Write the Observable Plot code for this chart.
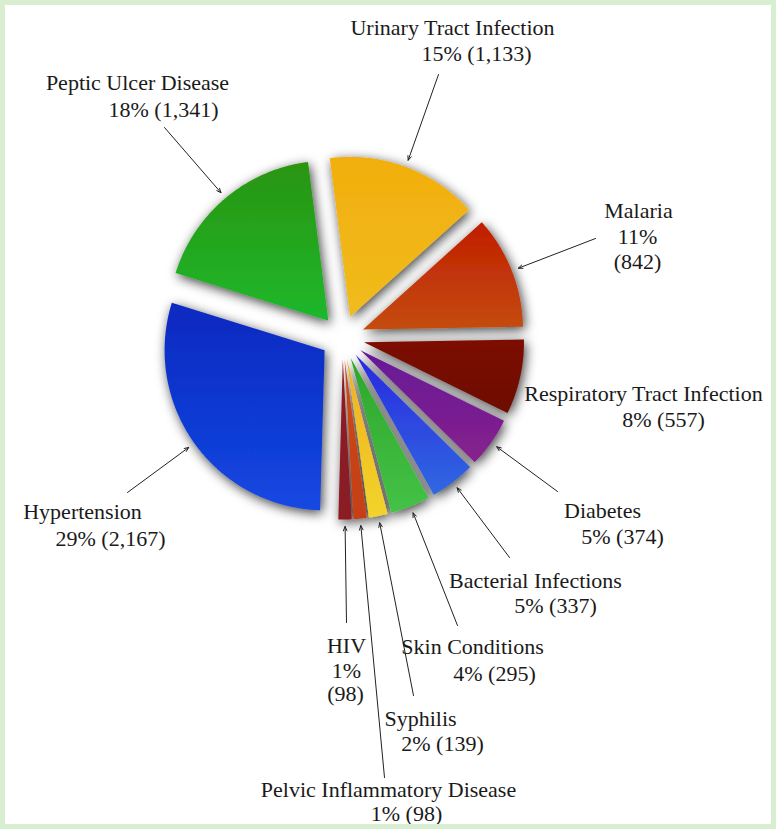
<!DOCTYPE html>
<html><head><meta charset="utf-8">
<script src="https://cdn.jsdelivr.net/npm/d3@7"></script>
<script src="https://cdn.jsdelivr.net/npm/@observablehq/plot@0.6"></script>
<style>
html,body{margin:0;padding:0;background:#fff;}
#wrap{position:relative;width:776px;height:829px;overflow:hidden;background:#fff;}
#frame{position:absolute;left:0;top:0;width:776px;height:829px;box-sizing:border-box;border:5px solid #d7eed1;pointer-events:none;}
</style></head><body><div id="wrap"><div id="frame"></div></div>
<script>
// ---- data ----
const categories = ["Urinary Tract Infection","Malaria","Respiratory Tract Infection","Diabetes","Bacterial Infections","Skin Conditions","Syphilis","Pelvic Inflammatory Disease","HIV","Hypertension","Peptic Ulcer Disease"];
const counts = [1133, 842, 557, 374, 337, 295, 139, 98, 98, 2167, 1341];
const colorTop    = ["#f2ae0e","#c01e00","#7c0b04","#661898","#2a28e0","#2ea62c","#f0ae22","#c84a1a","#8a1c28","#0a28c0","#2a9410"];
const colorBottom = ["#f0bc1c","#c44c10","#6c0806","#86228c","#3068e0","#44c246","#f2d42a","#c83e16","#8a1a24","#1448e2","#1eb82c"];

// ---- layout (pixels) ----
const W = 776, H = 829;
const cx = 342, cy = 337, R = 160, explode = 22, startDeg = -7.3, tipGap = 7;
// label lines: [kind, x-center, baseline]; kinds: name, pctcount, pct, count
const labelLayout = [
  {lines: [["name",452,34],["pctcount",476,60]], tail: [438,74]},
  {lines: [["name",638,217],["pct",637,243],["count",637,268]], tail: [595,238]},
  {lines: [["name",643,400],["pctcount",663,426]], tail: null},
  {lines: [["name",602,517],["pctcount",622,543]], tail: [557,491]},
  {lines: [["name",535,587],["pctcount",555,612]], tail: [509,557]},
  {lines: [["name",472,653],["pctcount",494,680]], tail: [457,625]},
  {lines: [["name",420,725],["pctcount",442,750]], tail: [413,695]},
  {lines: [["name",388,796],["pctcount",406,820]], tail: [384,777]},
  {lines: [["name",346,652],["pct",346,677],["count",345,700]], tail: [346,622]},
  {lines: [["name",82,518],["pctcount",110,545]], tail: [127,492]},
  {lines: [["name",137,89],["pctcount",163,116]], tail: [164,127]}
];

// ---- build ----
const total = d3.sum(counts);
const fmt = d3.format(",");
const rad = d => d * Math.PI / 180;
let acc = startDeg;
const slices = categories.map((name, i) => {
  const span = counts[i] / total * 360;
  const a0 = acc, a1 = acc + span; acc = a1;
  const m = (a0 + a1) / 2;
  const ax = cx + explode * Math.sin(rad(m)), ay = cy - explode * Math.cos(rad(m));
  return {name, i, a0, a1, m, ax, ay,
    pct: Math.round(counts[i] / total * 100) + "%", count: "(" + fmt(counts[i]) + ")"};
});

const pts = [];
for (const s of slices) {
  pts.push({name: s.name, x: s.ax, y: s.ay, fill: `url(#g${s.i})`});
  const n = Math.max(4, Math.ceil((s.a1 - s.a0) / 0.5));
  for (let k = 0; k <= n; k++) {
    const a = s.a0 + (s.a1 - s.a0) * k / n;
    pts.push({name: s.name, x: s.ax + R * Math.sin(rad(a)), y: s.ay - R * Math.cos(rad(a)), fill: `url(#g${s.i})`});
  }
  pts.push({name: s.name, x: s.ax, y: s.ay, fill: `url(#g${s.i})`});
}

const arrows = slices.filter((s, i) => labelLayout[i].tail).map(s => {
  const t = labelLayout[s.i].tail;
  return {x1: t[0], y1: t[1],
    x2: s.ax + (R + tipGap) * Math.sin(rad(s.m)), y2: s.ay - (R + tipGap) * Math.cos(rad(s.m))};
});

const texts = [];
slices.forEach(s => {
  for (const [kind, x, y] of labelLayout[s.i].lines) {
    const text = kind === "name" ? s.name : kind === "pct" ? s.pct : kind === "count" ? s.count : s.pct + " " + s.count;
    texts.push({x, y, text});
  }
});

const svg = Plot.plot({
  width: W, height: H, margin: 0,
  x: {domain: [0, W], range: [0, W], axis: null},
  y: {domain: [0, H], range: [0, H], axis: null},
  color: {type: "identity"},
  style: {background: "transparent", overflow: "visible"},
  marks: [
    Plot.line(pts, {x: "x", y: "y", z: "name", fill: "fill", stroke: "none"}),
    Plot.arrow(arrows, {x1: "x1", y1: "y1", x2: "x2", y2: "y2", stroke: "#222", strokeWidth: 1, headLength: 7, headAngle: 45}),
    Plot.text(texts, {x: "x", y: "y", text: "text", textAnchor: "middle", lineAnchor: "bottom",
      fontSize: 22, fontFamily: "Liberation Serif", fill: "#1a1a1a"})
  ]
});

const sel = d3.select(svg);
const defs = sel.insert("defs", ":first-child");
slices.forEach(s => {
  const g = defs.append("linearGradient").attr("id", "g" + s.i)
    .attr("x1", 0).attr("y1", 0).attr("x2", 0).attr("y2", 1);
  g.append("stop").attr("offset", "0%").attr("stop-color", colorTop[s.i]);
  g.append("stop").attr("offset", "100%").attr("stop-color", colorBottom[s.i]);
});
const f = defs.append("filter").attr("id", "shadow")
  .attr("x", "-30%").attr("y", "-30%").attr("width", "160%").attr("height", "160%");
f.append("feDropShadow").attr("dx", 2).attr("dy", 3).attr("stdDeviation", 6)
  .attr("flood-color", "#000").attr("flood-opacity", 0.75);
sel.select('g[aria-label="line"]').attr("filter", "url(#shadow)");

document.getElementById("wrap").insertBefore(svg, document.getElementById("frame"));
</script></body></html>
